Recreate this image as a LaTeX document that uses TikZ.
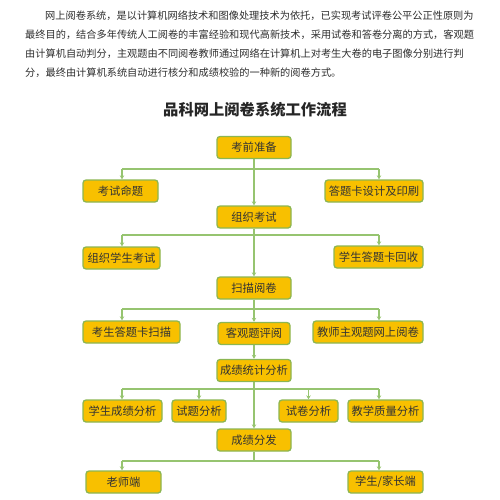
\documentclass[tikz,border=0pt]{standalone}
\usepackage{fontspec}
\newfontfamily\cjk{Noto Sans CJK SC}
\usepackage{tikz}
\usetikzlibrary{positioning, arrows.meta, calc}

\definecolor{boxfill}{RGB}{248,192,0}
\definecolor{boxline}{RGB}{140,182,82}
\definecolor{linkgreen}{RGB}{150,196,112}
\definecolor{bodytext}{RGB}{45,45,45}

\begin{document}
\begin{tikzpicture}[
    x=1pt, y=-1pt,
    box/.style={draw=boxline, fill=boxfill, line width=1.3pt, rounded corners=3pt,
        minimum height=22pt, inner sep=2pt, align=center,
        font=\cjk\fontsize{11.3}{13}\selectfont, text=black!80},
    para/.style={anchor=west, inner sep=0pt, font=\cjk\fontsize{10.2}{12}\selectfont, text=bodytext},
    link/.style={draw=linkgreen, line width=1.1pt},
    arrow/.style={link, -{Stealth[length=4pt, width=4.5pt]}},
]
\useasboundingbox (0,0) rectangle (500,500);

% intro paragraph
\node[para] (p1) at (45,16) {网上阅卷系统，是以计算机网络技术和图像处理技术为依托，已实现考试评卷公平公正性原则为};
\node[para] (p2) at (25,35) {最终目的，结合多年传统人工阅卷的丰富经验和现代高新技术，采用试卷和答卷分离的方式，客观题};
\node[para] (p3) at (25,54) {由计算机自动判分，主观题由不同阅卷教师通过网络在计算机上对考生大卷的电子图像分别进行判};
\node[para] (p4) at (25,73) {分，最终由计算机系统自动进行核分和成绩校验的一种新的阅卷方式。};

% title
\node[font=\cjk\bfseries\fontsize{15.3}{17}\selectfont, text=black!85] (title) at (255,110) {品科网上阅卷系统工作流程};

% main column
\node[box, minimum width=74pt] (prep) at (254,147.5) {考前准备};
\node[box, minimum width=74pt] (exam) at (254,217) {组织考试};
\node[box, minimum width=74pt] (scan) at (254,288) {扫描阅卷};
\node[box, minimum width=72pt] (objective) at (254,333.5) {客观题评阅};
\node[box, minimum width=74pt] (stats) at (254,370.5) {成绩统计分析};
\node[box, minimum width=74pt] (release) at (254,440) {成绩分发};

% side boxes
\node[box, minimum width=75pt] (paper) at (120.5,191) {考试命题};
\node[box, minimum width=98pt] (cardprint) at (374,191) {答题卡设计及印刷};
\node[box, minimum width=77pt] (sitting) at (121.5,258) {组织学生考试};
\node[box, minimum width=89pt] (collect) at (378.5,257) {学生答题卡回收};
\node[box, minimum width=97pt] (cardscan) at (131.5,332) {考生答题卡扫描};
\node[box, minimum width=110pt] (subjective) at (368,332) {教师主观题网上阅卷};
\node[box, minimum width=79pt] (stuscore) at (122.5,411) {学生成绩分析};
\node[box, minimum width=54pt] (item) at (199,411) {试题分析};
\node[box, minimum width=59pt] (testpaper) at (308.5,411) {试卷分析};
\node[box, minimum width=75pt] (quality) at (385.5,411) {教学质量分析};
\node[box, minimum width=75pt] (teacher) at (123.5,482) {老师端};
\node[box, minimum width=75pt] (parent) at (385.5,482) {学生/家长端};

% bus lines and drop points
\coordinate (L) at (122,0);
\coordinate (R) at (379,0);
\coordinate (bus1) at (0,169);
\coordinate (bus2) at (0,235);
\coordinate (bus3) at (0,309);
\coordinate (bus4) at (0,389);
\coordinate (bus5) at (0,461);

% trunk
\draw[arrow] (prep) -- (exam);
\draw[arrow] (exam) -- (scan);
\draw[arrow] (scan) -- (objective);
\draw[arrow] (objective) -- (stats);
\draw[arrow] (stats) -- (release);
\draw[link] (release) -- (release |- bus5);

% branches
\draw[link] (L |- bus1) -- (R |- bus1);
\draw[arrow] (L |- bus1) -- (L |- paper.north);
\draw[arrow] (R |- bus1) -- (R |- cardprint.north);

\draw[link] (L |- bus2) -- (R |- bus2);
\draw[arrow] (L |- bus2) -- (L |- sitting.north);
\draw[arrow] (R |- bus2) -- (R |- collect.north);

\draw[link] (L |- bus3) -- (R |- bus3);
\draw[arrow] (L |- bus3) -- (L |- cardscan.north);
\draw[arrow] (R |- bus3) -- (R |- subjective.north);

\draw[link] (L |- bus4) -- (R |- bus4);
\draw[arrow] (L |- bus4) -- (L |- stuscore.north);
\draw[arrow] (item |- bus4) -- (item);
\draw[arrow] (testpaper |- bus4) -- (testpaper);
\draw[arrow] (R |- bus4) -- (R |- quality.north);

\draw[link] (L |- bus5) -- (R |- bus5);
\draw[arrow] (L |- bus5) -- (L |- teacher.north);
\draw[arrow] (R |- bus5) -- (R |- parent.north);
\end{tikzpicture}
\end{document}
